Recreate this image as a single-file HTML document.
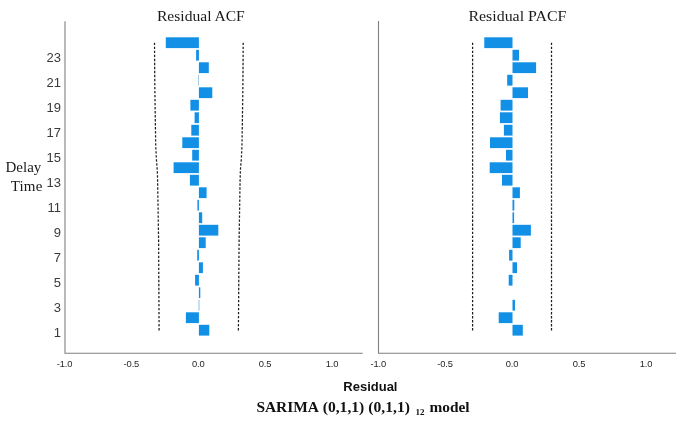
<!DOCTYPE html>
<html><head><meta charset="utf-8"><title>Residual ACF / PACF</title>
<style>
html,body{margin:0;padding:0;background:#fff;}
body{width:685px;height:423px;overflow:hidden;font-family:"Liberation Sans",sans-serif;}
svg{display:block;}
.ser{font-family:"Liberation Serif",serif;}
.san{font-family:"Liberation Sans",sans-serif;}
</style></head><body>
<svg width="685" height="423" viewBox="0 0 685 423" style="will-change:transform">
<rect width="685" height="423" fill="#ffffff"/>

<g stroke="#808080" stroke-width="1.1" fill="none">
<path d="M65 21.3V353.2H362.8"/>
<path d="M378.5 21V353.2H676"/>
</g>
<g fill="#1190e6">
<rect x="165.8" y="37.3" width="33.1" height="10.8"/>
<rect x="196.1" y="49.8" width="2.8" height="10.8"/>
<rect x="198.9" y="62.3" width="9.9" height="10.8"/>
<rect x="198.9" y="87.3" width="13.4" height="10.8"/>
<rect x="190.4" y="99.8" width="8.5" height="10.8"/>
<rect x="194.6" y="112.3" width="4.3" height="10.8"/>
<rect x="191.3" y="124.8" width="7.6" height="10.8"/>
<rect x="182.3" y="137.3" width="16.6" height="10.8"/>
<rect x="192.2" y="149.8" width="6.7" height="10.8"/>
<rect x="173.6" y="162.3" width="25.3" height="10.8"/>
<rect x="189.9" y="174.8" width="9.0" height="10.8"/>
<rect x="198.9" y="187.3" width="7.7" height="10.8"/>
<rect x="197.4" y="199.8" width="1.5" height="10.8"/>
<rect x="198.9" y="212.3" width="3.3" height="10.8"/>
<rect x="198.9" y="224.8" width="19.4" height="10.8"/>
<rect x="198.9" y="237.3" width="6.8" height="10.8"/>
<rect x="197.2" y="249.8" width="1.7" height="10.8"/>
<rect x="198.9" y="262.3" width="4.0" height="10.8"/>
<rect x="195.1" y="274.8" width="3.8" height="10.8"/>
<rect x="198.9" y="287.3" width="1.4" height="10.8"/>
<rect x="185.9" y="312.3" width="13.0" height="10.8"/>
<rect x="198.9" y="324.8" width="10.4" height="10.8"/>
<rect x="484.3" y="37.3" width="28.2" height="10.8"/>
<rect x="512.5" y="49.8" width="6.5" height="10.8"/>
<rect x="512.5" y="62.3" width="23.6" height="10.8"/>
<rect x="507.2" y="74.8" width="5.3" height="10.8"/>
<rect x="512.5" y="87.3" width="15.5" height="10.8"/>
<rect x="500.6" y="99.8" width="11.9" height="10.8"/>
<rect x="499.9" y="112.3" width="12.6" height="10.8"/>
<rect x="503.9" y="124.8" width="8.6" height="10.8"/>
<rect x="490.0" y="137.3" width="22.5" height="10.8"/>
<rect x="506.0" y="149.8" width="6.5" height="10.8"/>
<rect x="489.7" y="162.3" width="22.8" height="10.8"/>
<rect x="502.0" y="174.8" width="10.5" height="10.8"/>
<rect x="512.5" y="187.3" width="7.4" height="10.8"/>
<rect x="512.5" y="199.8" width="1.8" height="10.8"/>
<rect x="512.5" y="212.3" width="1.6" height="10.8"/>
<rect x="512.5" y="224.8" width="18.4" height="10.8"/>
<rect x="512.5" y="237.3" width="8.2" height="10.8"/>
<rect x="509.1" y="249.8" width="3.4" height="10.8"/>
<rect x="512.5" y="262.3" width="4.5" height="10.8"/>
<rect x="508.7" y="274.8" width="3.8" height="10.8"/>
<rect x="512.5" y="299.8" width="2.5" height="10.8"/>
<rect x="498.7" y="312.3" width="13.8" height="10.8"/>
<rect x="512.5" y="324.8" width="10.3" height="10.8"/>
</g>
<rect x="198.2" y="74.8" width="0.75" height="10.8" fill="#86b8dc"/>
<rect x="198.4" y="299.8" width="1.2" height="10.8" fill="#9bcdf0"/>
<g stroke="#1e1e1e" stroke-width="1.25" fill="none" stroke-dasharray="2.35 1.67">
<path d="M154.5 42.7L154.8 85L155.3 120L155.7 145L156.3 158L157.3 170L157.6 180L158.6 240L159.1 330.4"/>
<path d="M243.2 42.7L242.9 85L242.4 120L242 145L241.4 158L240.4 170L240.1 180L239.1 240L238.4 330.4"/>
<path d="M472.6 42.7V330.4"/>
<path d="M551.5 42.7V330.4"/>
</g>
<g class="san" font-size="13" fill="#3a3a3a" text-anchor="end">
<text x="61" y="336.9">1</text>
<text x="61" y="311.9">3</text>
<text x="61" y="286.9">5</text>
<text x="61" y="261.9">7</text>
<text x="61" y="237.0">9</text>
<text x="61" y="212.0">11</text>
<text x="61" y="187.0">13</text>
<text x="61" y="162.0">15</text>
<text x="61" y="137.0">17</text>
<text x="61" y="112.0">19</text>
<text x="61" y="87.0">21</text>
<text x="61" y="61.9">23</text>
</g>
<g class="san" font-size="9.4" fill="#262626" text-anchor="middle" letter-spacing="-0.15">
<text x="64.6" y="366.5">-1.0</text>
<text x="378.2" y="366.5">-1.0</text>
<text x="131.4" y="366.5">-0.5</text>
<text x="445.1" y="366.5">-0.5</text>
<text x="198.3" y="366.5">0.0</text>
<text x="512.1" y="366.5">0.0</text>
<text x="265.1" y="366.5">0.5</text>
<text x="579.0" y="366.5">0.5</text>
<text x="332.0" y="366.5">1.0</text>
<text x="646.0" y="366.5">1.0</text>
</g>
<g class="ser" font-size="15" fill="#1a1a1a">
<text x="200.9" y="20.8" font-size="15.6" text-anchor="middle" textLength="87.8" lengthAdjust="spacingAndGlyphs">Residual ACF</text>
<text x="517.4" y="20.8" font-size="15.6" text-anchor="middle" textLength="98" lengthAdjust="spacingAndGlyphs">Residual PACF</text>
<text x="41.3" y="172.4" text-anchor="end">Delay</text>
<text x="42.3" y="190.8" text-anchor="end" textLength="31.6" lengthAdjust="spacing">Time</text>
</g>
<text class="san" x="370.4" y="390.8" font-size="13" font-weight="bold" fill="#111" text-anchor="middle">Residual</text>
<g class="ser" font-size="15" font-weight="bold" fill="#111">
<text x="256.4" y="412" textLength="62.6" lengthAdjust="spacingAndGlyphs">SARIMA</text>
<text x="322.7" y="412" textLength="41.6" lengthAdjust="spacingAndGlyphs">(0,1,1)</text>
<text x="368.3" y="412" textLength="41.6" lengthAdjust="spacingAndGlyphs">(0,1,1)</text>
<text x="415.6" y="415.2" font-size="9">12</text>
<text x="429.4" y="412" textLength="40.2" lengthAdjust="spacingAndGlyphs">model</text>
</g>
</svg></body></html>
